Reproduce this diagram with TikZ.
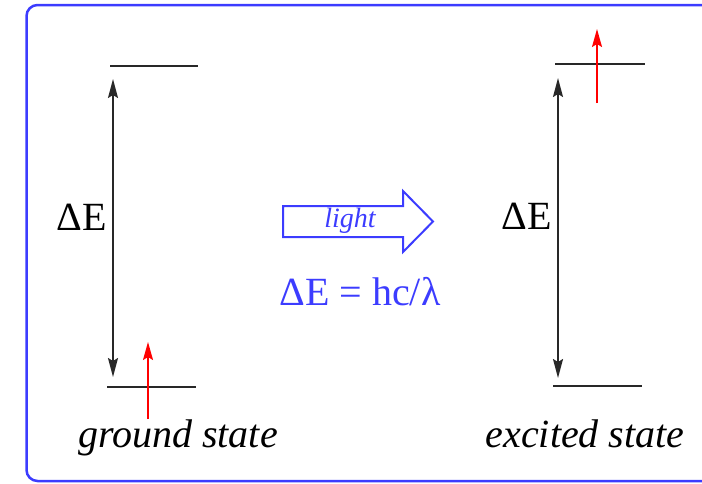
\documentclass[tikz,border=0pt]{standalone}
\usepackage{fontspec}
\setmainfont{Liberation Serif}
\usepackage{tikz}
\usetikzlibrary{arrows.meta}
\definecolor{frameblue}{RGB}{60,60,255}
\definecolor{levelgray}{RGB}{40,40,40}

\tikzset{
    level/.style={levelgray, line width=2pt},
    gap/.style={<->, levelgray, line width=1.8pt, >={Stealth[length=19pt,width=10pt,inset=3pt]}},
    electron/.style={->, red, line width=1.6pt, >={Stealth[length=18pt,width=10pt,inset=3pt]}},
    biglabel/.style={font=\fontsize{40}{44}\selectfont, inner sep=0pt, anchor=base}
}

\begin{document}
\begin{tikzpicture}[x=1pt, y=-1pt]
    \useasboundingbox (0,0) rectangle (702,483);

    % Frame
    \draw[frameblue, line width=2.5pt, rounded corners=11pt] (26.5,5) rectangle (720,481);

    % Ground state levels
    \coordinate (gsTopL) at (110,66);
    \coordinate (gsTopR) at (198,66);
    \coordinate (gsBotL) at (107,387);
    \coordinate (gsBotR) at (196,387);
    \draw[level] (gsTopL) -- (gsTopR);
    \draw[level] (gsBotL) -- (gsBotR);
    \coordinate (gsGapTop) at (113,79);
    \coordinate (gsGapBot) at (113,377);
    \draw[gap] (gsGapBot) -- (gsGapTop);
    \node[biglabel] (gsDelta) at (82,230) {ΔE};

    % Ground state electron
    \coordinate (gsElecFrom) at (148,419);
    \coordinate (gsElecTo) at (148,342);
    \draw[electron] (gsElecFrom) -- (gsElecTo);
    \node[biglabel, font=\fontsize{40}{44}\selectfont\itshape] (gsName) at (178,447) {ground state};

    % Excited state levels
    \coordinate (esTopL) at (555,64);
    \coordinate (esTopR) at (645,64);
    \coordinate (esBotL) at (553,386);
    \coordinate (esBotR) at (642,386);
    \draw[level] (esTopL) -- (esTopR);
    \draw[level] (esBotL) -- (esBotR);
    \coordinate (esGapTop) at (558,78);
    \coordinate (esGapBot) at (558,378);
    \draw[gap] (esGapBot) -- (esGapTop);
    \node[biglabel] (esDelta) at (527,229) {ΔE};

    % Excited state electron
    \coordinate (esElecFrom) at (597,103);
    \coordinate (esElecTo) at (597,29);
    \draw[electron] (esElecFrom) -- (esElecTo);
    \node[biglabel, font=\fontsize{40}{44}\selectfont\itshape] (esName) at (585,447) {excited state};

    % Light arrow
    \draw[frameblue, line width=2pt, line join=miter]
        (283,206) -- (403,206) -- (403,191) -- (433,221.5) -- (403,252)
        -- (403,237) -- (283,237) -- cycle;
    \node[frameblue, inner sep=0pt, anchor=base, font=\fontsize{28}{30}\selectfont\itshape] (light) at (350,227) {light};
    \node[biglabel, frameblue] (formula) at (360,305) {ΔE = hc/λ};
\end{tikzpicture}
\end{document}
